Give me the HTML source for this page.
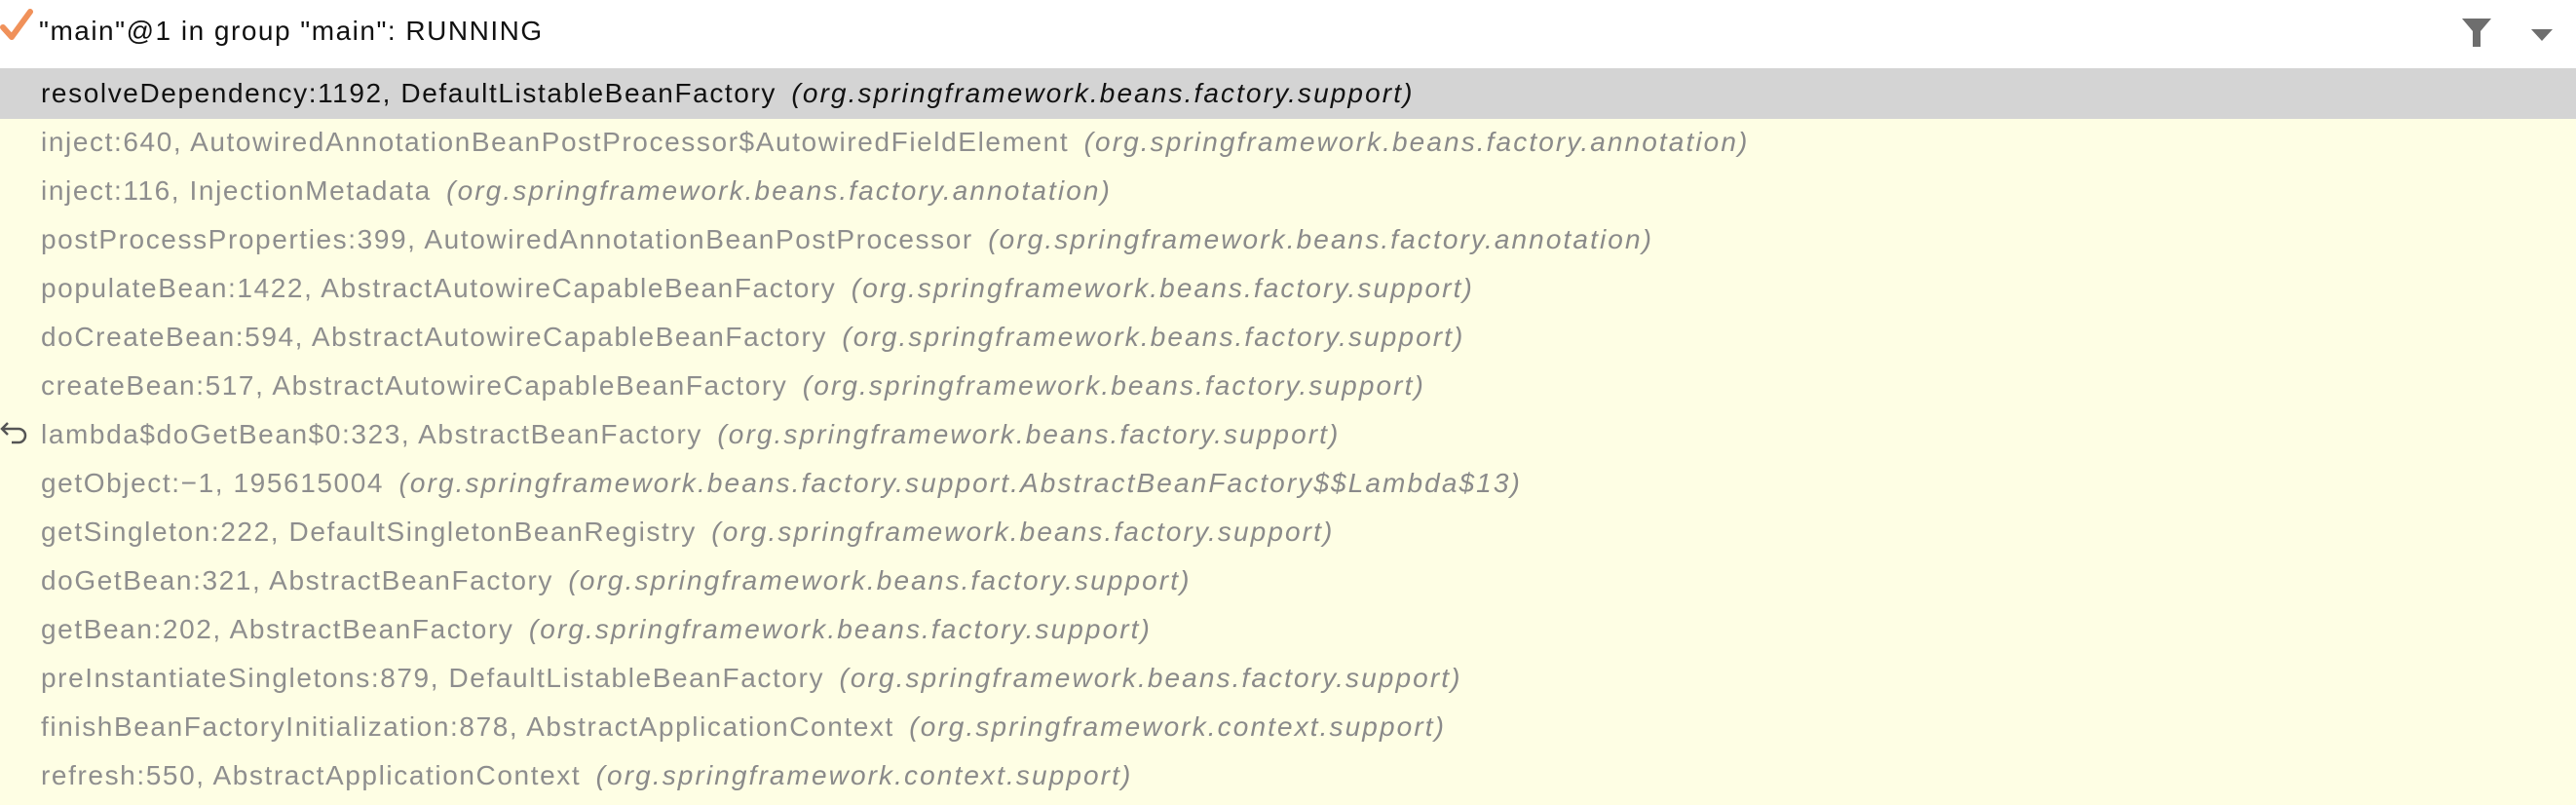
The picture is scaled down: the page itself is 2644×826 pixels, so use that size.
<!DOCTYPE html>
<html><head><meta charset="utf-8"><style>
body{margin:0;width:2644px;height:826px;overflow:hidden;background:#fefee4;font-family:"Liberation Sans",sans-serif;}
.top{position:absolute;left:0;top:0;width:2644px;height:70px;background:#fff;}
.title{position:absolute;left:40px;top:16px;font-size:28px;color:#111;white-space:nowrap;letter-spacing:1.5px;}
.sel{position:absolute;left:0;top:70px;width:2644px;height:52px;background:#d4d4d4;}
.row{position:absolute;left:42px;font-size:28px;color:#8e8e8e;white-space:nowrap;line-height:50px;letter-spacing:1.6px;}
.row i{color:#8a8a8a;margin-left:6px;letter-spacing:2.1px;}
.row.s{color:#111;}
.row.s i{color:#111;}
</style></head><body>
<div class="top"></div>
<svg style="position:absolute;left:0;top:8px" width="34" height="36"><path d="M3 20 L12 30 L31 4" fill="none" stroke="#f0915a" stroke-width="6" stroke-linecap="round" stroke-linejoin="round"/></svg>
<div class="title">"main"@1 in group "main": RUNNING</div>
<svg style="position:absolute;left:2525px;top:18px" width="36" height="32"><polygon points="2,1 32,1 21,14 21,30 13,30 13,14" fill="#6e6e6e"/></svg>
<svg style="position:absolute;left:2598px;top:28px" width="24" height="16"><polygon points="0,2 22,2 11,14" fill="#6e6e6e"/></svg>
<div class="sel"></div>
<svg style="position:absolute;left:0;top:430px" width="30" height="30"><path d="M8 4 L2 10 L8 16 M2 10 H19 A7 7 0 0 1 19 24 H12" fill="none" stroke="#555" stroke-width="2.5"/></svg>
<div class="row s" style="top:71px">resolveDependency:1192, DefaultListableBeanFactory <i>(org.springframework.beans.factory.support)</i></div>
<div class="row" style="top:121px">inject:640, AutowiredAnnotationBeanPostProcessor$AutowiredFieldElement <i>(org.springframework.beans.factory.annotation)</i></div>
<div class="row" style="top:171px">inject:116, InjectionMetadata <i>(org.springframework.beans.factory.annotation)</i></div>
<div class="row" style="top:221px">postProcessProperties:399, AutowiredAnnotationBeanPostProcessor <i>(org.springframework.beans.factory.annotation)</i></div>
<div class="row" style="top:271px">populateBean:1422, AbstractAutowireCapableBeanFactory <i>(org.springframework.beans.factory.support)</i></div>
<div class="row" style="top:321px">doCreateBean:594, AbstractAutowireCapableBeanFactory <i>(org.springframework.beans.factory.support)</i></div>
<div class="row" style="top:371px">createBean:517, AbstractAutowireCapableBeanFactory <i>(org.springframework.beans.factory.support)</i></div>
<div class="row" style="top:421px">lambda$doGetBean$0:323, AbstractBeanFactory <i>(org.springframework.beans.factory.support)</i></div>
<div class="row" style="top:471px">getObject:−1, 195615004 <i>(org.springframework.beans.factory.support.AbstractBeanFactory$$Lambda$13)</i></div>
<div class="row" style="top:521px">getSingleton:222, DefaultSingletonBeanRegistry <i>(org.springframework.beans.factory.support)</i></div>
<div class="row" style="top:571px">doGetBean:321, AbstractBeanFactory <i>(org.springframework.beans.factory.support)</i></div>
<div class="row" style="top:621px">getBean:202, AbstractBeanFactory <i>(org.springframework.beans.factory.support)</i></div>
<div class="row" style="top:671px">preInstantiateSingletons:879, DefaultListableBeanFactory <i>(org.springframework.beans.factory.support)</i></div>
<div class="row" style="top:721px">finishBeanFactoryInitialization:878, AbstractApplicationContext <i>(org.springframework.context.support)</i></div>
<div class="row" style="top:771px">refresh:550, AbstractApplicationContext <i>(org.springframework.context.support)</i></div>
</body></html>
